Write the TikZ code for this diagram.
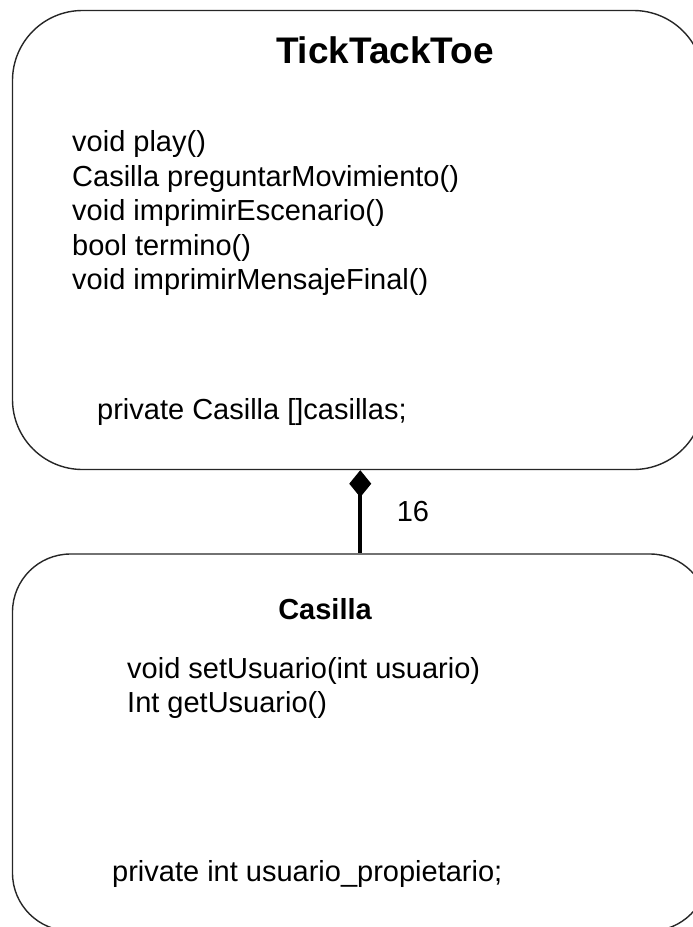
\documentclass[tikz,border=0pt]{standalone}
\usepackage{fontspec}
\setmainfont{Liberation Sans}
\usepackage{tikz}
\usetikzlibrary{arrows.meta}

\begin{document}
\begin{tikzpicture}[x=1pt,y=-1pt,
    umlbox/.style={draw=black!85,line width=1.4pt,minimum width=#1},
    memb/.style={inner sep=0pt,align=left,font=\fontsize{29}{34.5}\selectfont},
    compo/.style={line width=4pt,{Diamond[length=27pt,width=22pt,line width=0pt]}-}]
  \useasboundingbox (0,0) rectangle (693,927);
  \clip (0,0) rectangle (693,927);
  \node[umlbox=691pt,minimum height=459pt,rounded corners=70pt] (ticktacktoe) at (358,240) {};
  \node[umlbox=695.5pt,minimum height=377pt,rounded corners=58pt] (casilla) at (360.25,742.5) {};
  \node[inner sep=0pt,font=\fontsize{37}{40}\selectfont\bfseries] (tttname) at (385,50) {TickTackToe};
  \node[memb,anchor=west] (tttops) at (72,213) {void play()\\Casilla preguntarMovimiento()\\void imprimirEscenario()\\bool termino()\\void imprimirMensajeFinal()};
  \node[memb,anchor=west] (tttattr) at (97,412) {private Casilla []casillas;};
  \node[inner sep=0pt,font=\fontsize{29}{32}\selectfont\bfseries] (casname) at (325,609) {Casilla};
  \node[memb,anchor=west] (casops) at (127,688) {void setUsuario(int usuario)\\Int getUsuario()};
  \node[memb,anchor=west] (casattr) at (112,874) {private int usuario\_propietario;};
  \draw[compo] (casilla.north |- ticktacktoe.south) -- (casilla.north);
  \node[memb] (mult) at (413,512) {16};
\end{tikzpicture}
\end{document}
